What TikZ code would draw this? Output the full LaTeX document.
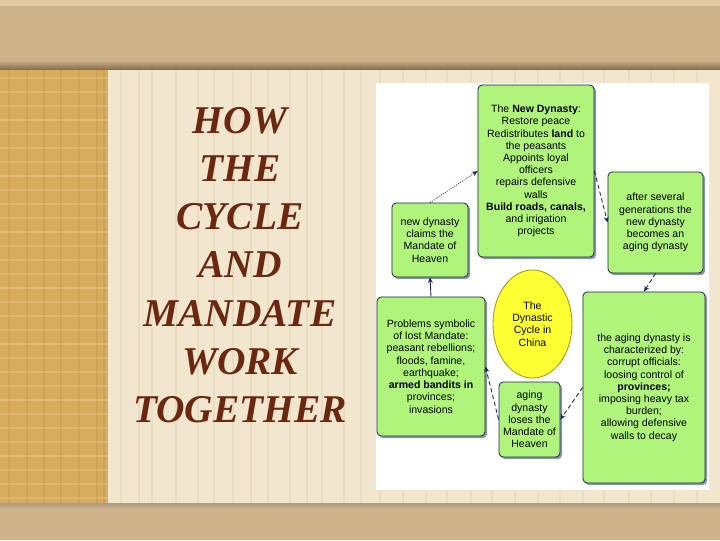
\documentclass[tikz,border=0pt]{standalone}
\usepackage{fontspec}
\setmainfont{Liberation Serif}
\newfontfamily\boxfont{Liberation Sans}
\usetikzlibrary{arrows.meta,shadows,shapes.geometric}
\definecolor{band}{HTML}{CDB28A}
\definecolor{bandlight}{HTML}{E2CCA8}
\definecolor{bandshadow}{HTML}{8A7250}
\definecolor{cream}{HTML}{F2E6CF}
\definecolor{streak}{HTML}{D9C7A6}
\definecolor{gold}{HTML}{D8AC5E}
\definecolor{golddark}{HTML}{B98A3C}
\definecolor{goldlight}{HTML}{E8C98C}
\definecolor{titlebrown}{HTML}{6A2810}
\definecolor{boxgreen}{HTML}{B0F47C}
\definecolor{boxline}{HTML}{1F2A44}
\definecolor{shadowblue}{HTML}{7F8AA8}
\definecolor{cycleyellow}{HTML}{FFFF33}
\definecolor{cycleline}{HTML}{9A9A10}
\definecolor{linkblue}{HTML}{1A1F6E}

\begin{document}
\begin{tikzpicture}[x=0.025cm,y=-0.025cm,
  box/.style={draw=boxline,line width=0.6pt,fill=boxgreen,rounded corners=3pt,
    inner sep=0pt,align=center,font=\boxfont\fontsize{7.5}{8.7}\selectfont,
    drop shadow={shadow xshift=1.5pt,shadow yshift=-1.5pt,fill=shadowblue,opacity=0.9}},
  link/.style={draw=linkblue,line width=0.6pt,densely dashed,-{Stealth[length=4pt,width=3.5pt]}},
  title/.style={align=center,text=titlebrown,font=\fontsize{28}{34.3}\selectfont\bfseries\itshape}]
\useasboundingbox (0,0) rectangle (720,540);
\fill[cream] (0,0) rectangle (720,540);
\foreach \x in {121,139,152,176,198,214,233,251,268,290,307,322,344,361,380,403,426,447,471,492,515,538,560,583,604,629,651,674,697}
  \draw[streak,line width=0.8pt,opacity=0.3] (\x,68) -- (\x,503);
\fill[gold] (0,68) rectangle (108,503);
\foreach \x in {9,27,44,61,79,97,104}
  \draw[golddark,line width=1pt,opacity=0.3] (\x,68) -- (\x,503);
\foreach \y in {78,92,106,120,134,148,162,176,190,204,218,232,246,260,274,288,302,316,330,344,358,372,386,400,414,428,442,456,470,484,498}
  \draw[goldlight,line width=1pt,opacity=0.4] (0,\y) -- (108,\y);
\fill[band] (0,0) rectangle (720,68);
\fill[bandlight] (0,0) rectangle (720,6);
\shade[top color=band,bottom color=bandshadow] (0,60) rectangle (720,69);
\fill[band] (0,503) rectangle (720,540);
\shade[top color=bandshadow!70,bottom color=band] (0,503) rectangle (720,509);
\fill[white] (376,83) rectangle (709,490);

\node[title] (heading) at (240,265) {HOW\\THE\\CYCLE\\AND\\MANDATE\\WORK\\TOGETHER};

\node[box,minimum width=2.9cm,minimum height=4.3cm] (new) at (536,171)
  {The \textbf{New Dynasty}:\\Restore peace\\Redistributes \textbf{land} to\\the peasants\\Appoints loyal\\officers\\repairs defensive\\walls\\\textbf{Build roads, canals,}\\and irrigation\\projects};
\node[box,minimum width=2.375cm,minimum height=2.525cm] (aging) at (655.5,222.5)
  {after several\\generations the\\new dynasty\\becomes an\\aging dynasty};
\node[box,minimum width=1.9cm,minimum height=1.85cm] (claim) at (430,240)
  {new dynasty\\claims the\\Mandate of\\Heaven};
\node[box,minimum width=2.7cm,minimum height=3.475cm] (problems) at (431,366.5)
  {Problems symbolic\\of lost Mandate:\\peasant rebellions;\\floods, famine,\\earthquake;\\\textbf{armed bandits in}\\provinces;\\invasions};
\node[ellipse,draw=cycleline,line width=0.6pt,fill=cycleyellow,inner sep=0pt,
  minimum width=1.975cm,minimum height=2.7cm,align=center,
  font=\boxfont\fontsize{7.5}{8.7}\selectfont] (cycle) at (532.5,324)
  {The\\Dynastic\\Cycle in\\China};
\node[box,minimum width=1.525cm,minimum height=1.875cm] (loses) at (529.5,419.5)
  {aging\\dynasty\\loses the\\Mandate of\\Heaven};
\node[box,minimum width=3.05cm,minimum height=4.775cm] (traits) at (644,387.5)
  {the aging dynasty is\\characterized by:\\corrupt officials:\\loosing control of\\\textbf{provinces;}\\imposing heavy tax\\burden;\\allowing defensive\\walls to decay};

\draw[link,densely dotted] (claim.north) -- (new.west);
\draw[link] (new.east) -- (aging.west);
\draw[link] (aging.south) -- (traits.north);
\draw[link] (traits.west) -- (loses.east);
\draw[link] (loses.west) -- (problems.east);
\draw[link,solid] (problems.north) -- (claim.south);
\end{tikzpicture}
\end{document}
